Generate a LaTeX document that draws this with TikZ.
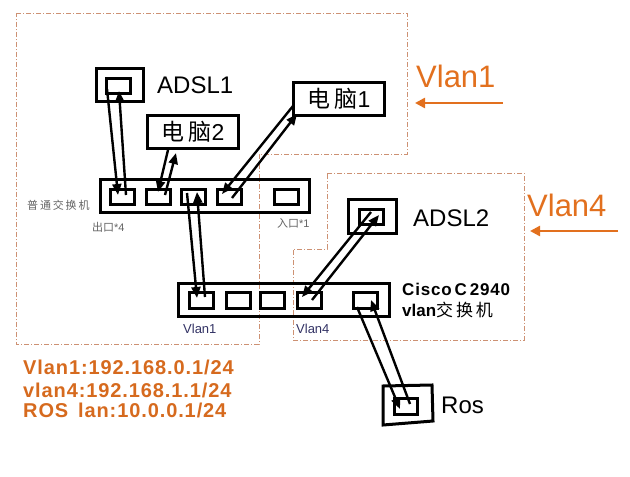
\documentclass[tikz,border=0pt]{standalone}
\usepackage{fontspec}
\setmainfont{Liberation Sans}
\newfontfamily\cjk{Noto Sans CJK SC}
\usetikzlibrary{arrows.meta}
\definecolor{orng}{RGB}{226,112,30}
\definecolor{ipc}{RGB}{214,106,30}
\definecolor{regc}{RGB}{205,145,115}
\definecolor{navyc}{RGB}{50,50,100}
\definecolor{lgray}{RGB}{100,100,100}
\begin{document}
\begin{tikzpicture}[x=1pt,y=-1pt,
  hw/.style={draw, line width=3pt, inner sep=0pt, rectangle},
  port/.style={hw, minimum width=24pt, minimum height=15pt},
  regline/.style={draw=regc, line width=0.7pt, dash pattern=on 5pt off 2pt on 1pt off 2pt},
  link/.style={line width=2.4pt, -{Triangle[length=11pt,width=9pt]}},
  big/.style={inner sep=0pt, anchor=base west, font=\fontsize{24}{28}\selectfont},
  vlantag/.style={inner sep=0pt, anchor=base west, text=orng, font=\fontsize{31}{34}\selectfont},
  iptext/.style={inner sep=0pt, anchor=base west, text=ipc, font=\fontsize{20}{24}\selectfont\bfseries\addfontfeature{LetterSpace=4.5}},
  small/.style={inner sep=0pt, anchor=west, font=\fontsize{11}{13}\selectfont},
  orarrow/.style={draw=orng, line width=2.4pt, -{Triangle[length=10pt,width=10pt]}}
]
\useasboundingbox (0,0) rectangle (630,477);

% regions
\draw[regline] (16,13) -- (407,13) -- (407,154) -- (259,154) -- (259,344) -- (16,344) -- cycle;
\draw[regline] (327,173) -- (524,173) -- (524,340) -- (293,340) -- (293,249) -- (327,249) -- cycle;

% ADSL1
\node[hw, minimum width=47pt, minimum height=33pt] (adsl1o) at (120,85) {};
\node[port] (adsl1i) at (118.5,86) {};
\node[big] (adsl1t) at (157,93) {ADSL1};

% PCs
\node[hw, minimum width=91pt, minimum height=33pt, font=\fontsize{23}{28}\selectfont] (pc2) at (193,132) {{\cjk 电\,脑}2};
\node[hw, minimum width=91pt, minimum height=33pt, font=\fontsize{23}{28}\selectfont] (pc1) at (339,99) {{\cjk 电\,脑}1};

% ordinary switch
\node[hw, minimum width=209pt, minimum height=33pt] (sw1) at (205,196) {};
\node[port] (s1p1) at (122.5,197) {};
\node[port] (s1p2) at (158.5,197) {};
\node[port] (s1p3) at (193.5,197) {};
\node[port] (s1p4) at (229.5,197) {};
\node[port] (s1p5) at (286.5,197) {};
\node[small, text=lgray] (sw1t) at (27,205) {\cjk 普\,通\,交\,换\,机};
\node[small, text=lgray] (outt) at (92,227) {{\cjk 出口}*4};
\node[small, text=lgray] (int) at (277,223) {{\cjk 入口}*1};

% ADSL2
\node[hw, minimum width=48pt, minimum height=34pt] (adsl2o) at (372.5,216.5) {};
\node[port] (adsl2i) at (371.5,217) {};
\node[big] (adsl2t) at (413,226) {ADSL2};

% Cisco switch
\node[hw, minimum width=211pt, minimum height=33pt] (cisco) at (284,300) {};
\node[port, minimum height=16pt] (cp1) at (201.5,300.5) {};
\node[port, minimum height=16pt] (cp2) at (238,300.5) {};
\node[port, minimum height=16pt] (cp3) at (272,300.5) {};
\node[port, minimum height=16pt] (cp4) at (309,300.5) {};
\node[port, minimum height=16pt] (cp5) at (365.5,300.5) {};
\node[inner sep=0pt, anchor=base west, font=\fontsize{17}{20}\selectfont\bfseries\addfontfeature{LetterSpace=5}] (ciscot1) at (402,295) {Cisco\,C\,2940};
\node[inner sep=0pt, anchor=base west, font=\fontsize{17}{20}\selectfont\bfseries] (ciscot2) at (402,316) {vlan{\cjk\mdseries 交\,换\,机}};
\node[small, text=navyc, font=\fontsize{13}{15}\selectfont] (v1s) at (183,329) {Vlan1};
\node[small, text=navyc, font=\fontsize{13}{15}\selectfont] (v4s) at (296,329) {Vlan4};

% Ros
\draw[line width=3pt] (383,386) -- (432,385) -- (433,421) -- (383,425) -- cycle;
\node[port, minimum width=23pt, minimum height=16pt] (rosi) at (406,406.5) {};
\node[big] (rost) at (441,413) {Ros};

% Vlan tags
\node[vlantag] (vl1) at (416,87) {Vlan1};
\coordinate (vl1a) at (503,103);
\coordinate (vl1b) at (415,103);
\draw[orarrow] (vl1a) -- (vl1b);
\node[vlantag] (vl4) at (527,216) {Vlan4};
\coordinate (vl4a) at (618,231);
\coordinate (vl4b) at (530,231);
\draw[orarrow] (vl4a) -- (vl4b);

% IP text
\node[iptext] (ip1) at (23,374) {Vlan1:192.168.0.1/24};
\node[iptext] (ip2) at (23,397) {vlan4:192.168.1.1/24};
\node[iptext] (ip3) at (23,417) {ROS\, lan:10.0.0.1/24};

% links
\coordinate (l1a) at (107,89);  \coordinate (l1b) at (118,195);
\coordinate (l1c) at (126,195); \coordinate (l1d) at (119,91);
\draw[link] (l1a) -- (l1b); \draw[link] (l1c) -- (l1d);

\coordinate (l2a) at (168,150); \coordinate (l2b) at (158,192);
\coordinate (l2c) at (165,195); \coordinate (l2d) at (176,153);
\draw[link] (l2a) -- (l2b); \draw[link] (l2c) -- (l2d);

\coordinate (l3a) at (293,106); \coordinate (l3b) at (222,194);
\coordinate (l3c) at (232,198); \coordinate (l3d) at (297,114);
\draw[link] (l3a) -- (l3b); \draw[link] (l3c) -- (l3d);

\coordinate (l4a) at (187,193); \coordinate (l4b) at (197,298);
\coordinate (l4c) at (205,297); \coordinate (l4d) at (197,192);
\draw[link] (l4a) -- (l4b); \draw[link] (l4c) -- (l4d);

\coordinate (l5a) at (371,212); \coordinate (l5b) at (302,297);
\coordinate (l5c) at (312,300); \coordinate (l5d) at (379,215);
\draw[link] (l5a) -- (l5b); \draw[link] (l5c) -- (l5d);

\coordinate (l6a) at (357,307); \coordinate (l6b) at (400,409);
\coordinate (l6c) at (410,404); \coordinate (l6d) at (371,300);
\draw[link] (l6a) -- (l6b); \draw[link] (l6c) -- (l6d);
\end{tikzpicture}
\end{document}
